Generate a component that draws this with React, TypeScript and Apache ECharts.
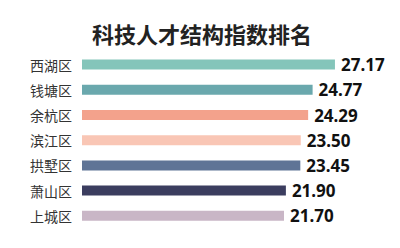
import React, { useEffect, useRef } from "react";
import * as echarts from "echarts";

const title = "科技人才结构指数排名";
const categories = ["西湖区", "钱塘区", "余杭区", "滨江区", "拱墅区", "萧山区", "上城区"];
const values = [27.17, 24.77, 24.29, 23.5, 23.45, 21.9, 21.7];
const colors = ["#84c5ba", "#6aa8ad", "#f3a28c", "#f9c6b5", "#5f7496", "#3b3d5f", "#c9b6c6"];

export default function App() {
  const ref = useRef<HTMLDivElement>(null);
  useEffect(() => {
    if (!ref.current) return;
    const chart = echarts.init(ref.current, null, { renderer: "svg" });
    chart.setOption({
      animation: false,
      backgroundColor: "#ffffff",
      title: {
        text: title,
        left: 197,
        textAlign: "center",
        top: 17,
        textStyle: {
          fontFamily: "Noto Sans CJK SC",
          fontSize: 22,
          fontWeight: "bold",
          color: "#222222",
        },
      },
      grid: { left: 82, top: 52, width: 279.3, height: 176.4, containLabel: false },
      xAxis: {
        type: "value",
        min: 0,
        max: 30,
        show: false,
      },
      yAxis: {
        type: "category",
        data: categories,
        inverse: true,
        axisLine: { show: false },
        axisTick: { show: false },
        axisLabel: {
          margin: 10,
          fontFamily: "Noto Sans CJK SC",
          fontSize: 14,
          color: "#333333",
        },
      },
      series: [
        {
          type: "bar",
          data: values.map((v, i) => ({ value: v, itemStyle: { color: colors[i] } })),
          barWidth: 10,
          label: {
            show: true,
            position: "right",
            distance: 6,
            formatter: (p: any) => Number(p.value).toFixed(2),
            fontFamily: "Noto Sans",
            fontSize: 17,
            fontWeight: "bold",
            color: "#111111",
          },
        },
      ],
    });
    return () => chart.dispose();
  }, []);
  return (
    <div
      ref={ref}
      style={{ position: "fixed", left: 0, top: 0, width: 400, height: 248 }}
    />
  );
}
